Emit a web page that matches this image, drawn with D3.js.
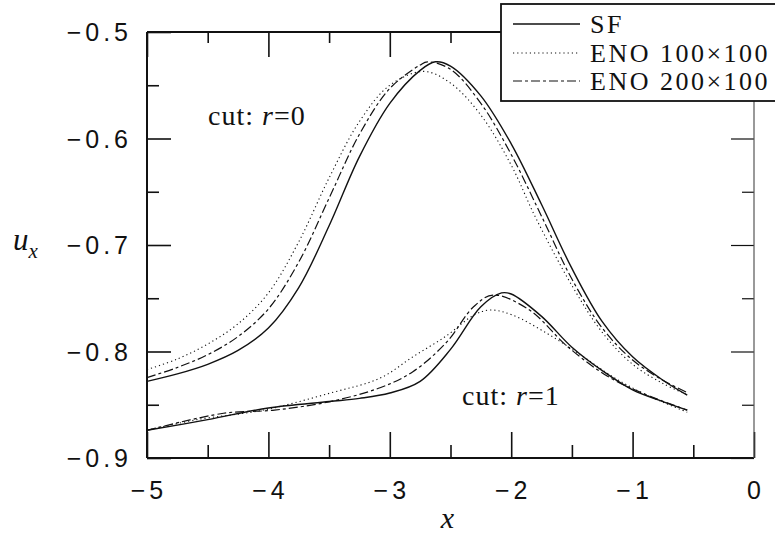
<!DOCTYPE html>
<html>
<head>
<meta charset="utf-8">
<script src="https://cdn.jsdelivr.net/npm/d3@7"></script>
<style>
  body { margin: 0; background: #fff; }
  svg { display: block; }
  .ticklab { font-family: "Liberation Sans", Arial, sans-serif; font-size: 25px; letter-spacing: 4px; fill: #111; }
  .serif { font-family: "Liberation Serif", "Times New Roman", serif; fill: #111; }
</style>
</head>
<body>
<div id="chart"></div>
<script>
// ---- data ----
// upper group: cut r=0
const sfUpX   = [-5, -4.75, -4.5, -4.25, -4, -3.75, -3.5, -3.25, -3, -2.75, -2.625, -2.5, -2.25, -2, -1.75, -1.5, -1.25, -1, -0.75, -0.55];
const sfUpY   = [-0.828, -0.821, -0.812, -0.799, -0.778, -0.740, -0.682, -0.617, -0.567, -0.536, -0.528, -0.532, -0.560, -0.605, -0.662, -0.722, -0.772, -0.805, -0.827, -0.841];
const dashUpX = [-5, -4.75, -4.5, -4.25, -4, -3.75, -3.5, -3.25, -3, -2.75, -2.69, -2.5, -2.25, -2, -1.75, -1.5, -1.25, -1, -0.75, -0.56];
const dashUpY = [-0.8245, -0.815, -0.803, -0.786, -0.760, -0.716, -0.656, -0.596, -0.553, -0.531, -0.528, -0.535, -0.567, -0.615, -0.673, -0.732, -0.778, -0.808, -0.827, -0.838];
const dotUpX  = [-5, -4.75, -4.5, -4.25, -4, -3.75, -3.5, -3.25, -3, -2.72, -2.5, -2.25, -2, -1.8, -1.5, -1.25, -1, -0.75, -0.56];
const dotUpY  = [-0.817, -0.807, -0.793, -0.774, -0.745, -0.697, -0.637, -0.584, -0.550, -0.537, -0.548, -0.578, -0.625, -0.674, -0.738, -0.782, -0.812, -0.830, -0.840];
// lower group: cut r=1
const sfLoX   = [-5, -4.5, -4, -3.5, -3.25, -3, -2.75, -2.5, -2.25, -2.08, -2, -1.75, -1.5, -1.25, -1, -0.75, -0.55];
const sfLoY   = [-0.874, -0.864, -0.853, -0.847, -0.844, -0.839, -0.828, -0.798, -0.758, -0.745, -0.746, -0.767, -0.796, -0.818, -0.836, -0.847, -0.855];
const dashLoX = [-5, -4.37, -3.95, -3.49, -3.08, -2.81, -2.53, -2.31, -2.15, -1.85, -1.54, -1.21, -0.9, -0.55];
const dashLoY = [-0.874, -0.858, -0.855, -0.847, -0.834, -0.819, -0.791, -0.758, -0.747, -0.761, -0.795, -0.823, -0.840, -0.855];
const dotLoX  = [-5, -4.59, -4.04, -3.49, -3.08, -2.81, -2.53, -2.31, -2.17, -1.985, -1.705, -1.43, -1.16, -0.9, -0.55];
const dotLoY  = [-0.874, -0.864, -0.855, -0.839, -0.825, -0.805, -0.785, -0.766, -0.761, -0.766, -0.783, -0.803, -0.824, -0.840, -0.857];

const xMajor = [-5, -4, -3, -2, -1, 0];
const xMinor = [-4.5, -3.5, -2.5, -1.5, -0.5];
const yMajor = [-0.9, -0.8, -0.7, -0.6, -0.5];
const yMinor = [-0.85, -0.75, -0.65, -0.55];
const legendNames = ["SF", "ENO 100×100", "ENO 200×100"];

const W = 775, H = 540;
const margin = {top: 32, right: 21, bottom: 82, left: 147};
const svg = d3.select("#chart").append("svg").attr("width", W).attr("height", H);

const x = d3.scaleLinear().domain([-5, 0]).range([margin.left, W - margin.right]);
const y = d3.scaleLinear().domain([-0.9, -0.5]).range([H - margin.bottom, margin.top]);

const fmt = d => (d < 0 ? "\u2212" : "") + Math.abs(d);

// styles per method
const styles = {
  sf:   {dash: null,         width: 1.4},
  dot:  {dash: "1.2,3",      width: 1.1},
  dash: {dash: "9,3,3,3",    width: 1.2}
};

// ticks via axes, inward
const bottomMaj = d3.axisBottom(x).tickValues(xMajor).tickSize(-26).tickFormat("");
const bottomMin = d3.axisBottom(x).tickValues(xMinor).tickSize(-13).tickFormat("");
const topMaj = d3.axisTop(x).tickValues(xMajor).tickSize(-25).tickFormat("");
const topMin = d3.axisTop(x).tickValues(xMinor).tickSize(-11).tickFormat("");
const leftMaj = d3.axisLeft(y).tickValues(yMajor).tickSize(-24).tickFormat("");
const leftMin = d3.axisLeft(y).tickValues(yMinor).tickSize(-12).tickFormat("");
const rightMaj = d3.axisRight(y).tickValues(yMajor).tickSize(-23).tickFormat("");
const rightMin = d3.axisRight(y).tickValues(yMinor).tickSize(-12).tickFormat("");

const ax = svg.append("g").attr("id", "axes");
ax.append("g").attr("transform", `translate(0,${y(-0.9)})`).call(bottomMaj);
ax.append("g").attr("transform", `translate(0,${y(-0.9)})`).call(bottomMin);
ax.append("g").attr("transform", `translate(0,${y(-0.5)})`).call(topMaj);
ax.append("g").attr("transform", `translate(0,${y(-0.5)})`).call(topMin);
ax.append("g").attr("transform", `translate(${x(-5)},0)`).call(leftMaj);
ax.append("g").attr("transform", `translate(${x(-5)},0)`).call(leftMin);
ax.append("g").attr("transform", `translate(${x(0)},0)`).call(rightMaj).classed("right", true);
ax.append("g").attr("transform", `translate(${x(0)},0)`).call(rightMin).classed("right", true);
ax.selectAll(".domain").remove();
ax.selectAll(".tick line").attr("stroke", "#111").attr("stroke-width", 1.6);
ax.selectAll(".right .tick line").attr("stroke-width", 1.2);

// frame
ax.append("line").attr("x1", x(-5)).attr("x2", x(0)).attr("y1", y(-0.9)).attr("y2", y(-0.9)).attr("stroke", "#111").attr("stroke-width", 2.2);
ax.append("line").attr("x1", x(-5)).attr("x2", x(-5)).attr("y1", y(-0.9)).attr("y2", y(-0.5)).attr("stroke", "#111").attr("stroke-width", 2);
ax.append("line").attr("x1", x(-5)).attr("x2", x(0)).attr("y1", y(-0.5)).attr("y2", y(-0.5)).attr("stroke", "#111").attr("stroke-width", 2);
ax.append("line").attr("x1", x(0)).attr("x2", x(0)).attr("y1", y(-0.9)).attr("y2", y(-0.5)).attr("stroke", "#555").attr("stroke-width", 1.2);

// tick labels
svg.append("g").selectAll("text").data(yMajor).enter().append("text")
  .attr("class", "ticklab")
  .attr("x", x(-5) - 15)
  .attr("y", d => y(d) + 9)
  .attr("text-anchor", "end")
  .text(fmt);
svg.append("g").selectAll("text").data(xMajor).enter().append("text")
  .attr("class", "ticklab")
  .attr("x", d => x(d) + 2)
  .attr("y", y(-0.9) + 41)
  .attr("text-anchor", "middle")
  .text(fmt);

// axis titles
svg.append("text").attr("class", "serif")
  .attr("x", x(-2.5) - 3).attr("y", 528)
  .attr("text-anchor", "middle")
  .style("font-size", "30px").style("font-style", "italic")
  .text("x");
const uLab = svg.append("text").attr("class", "serif")
  .attr("x", 13).attr("y", y(-0.7) + 5)
  .style("font-size", "31px").style("font-style", "italic");
uLab.append("tspan").text("u");
uLab.append("tspan").attr("dy", 8).style("font-size", "21px").text("x");

// curves
const line = d3.line().x(d => x(d[0])).y(d => y(d[1])).curve(d3.curveCatmullRom.alpha(0.5));
const series = [
  {xs: sfUpX, ys: sfUpY, s: styles.sf},
  {xs: dotUpX, ys: dotUpY, s: styles.dot},
  {xs: dashUpX, ys: dashUpY, s: styles.dash},
  {xs: sfLoX, ys: sfLoY, s: styles.sf},
  {xs: dotLoX, ys: dotLoY, s: styles.dot},
  {xs: dashLoX, ys: dashLoY, s: styles.dash}
];
svg.append("g").attr("id", "curves").selectAll("path").data(series).enter().append("path")
  .attr("d", d => line(d.xs.map((v, i) => [v, d.ys[i]])))
  .attr("fill", "none")
  .attr("stroke", "#111")
  .attr("stroke-width", d => d.s.width)
  .attr("stroke-dasharray", d => d.s.dash);

// annotations
function cutLabel(px, py, val) {
  const t = svg.append("text").attr("class", "serif").attr("x", px).attr("y", py)
    .style("font-size", "28px").style("letter-spacing", "1px");
  t.append("tspan").text("cut: ");
  t.append("tspan").style("font-style", "italic").text("r");
  t.append("tspan").text("=" + val);
}
cutLabel(208, 125, "0");
cutLabel(462, 405, "1");

// legend
const lg = svg.append("g").attr("id", "legend");
lg.append("rect").attr("x", 501).attr("y", 4).attr("width", 290).attr("height", 97)
  .attr("fill", "#fff").attr("stroke", "#111").attr("stroke-width", 1.8);
const lgStyles = [styles.sf, styles.dot, styles.dash];
const rowY = [24, 53, 81];
lg.selectAll("line.key").data(legendNames).enter().append("line")
  .attr("class", "key")
  .attr("x1", 513).attr("x2", 580)
  .attr("y1", (d, i) => rowY[i]).attr("y2", (d, i) => rowY[i])
  .attr("stroke", "#111")
  .attr("stroke-width", (d, i) => lgStyles[i].width)
  .attr("stroke-dasharray", (d, i) => lgStyles[i].dash);
lg.selectAll("text").data(legendNames).enter().append("text")
  .attr("class", "serif")
  .attr("x", 590)
  .attr("y", (d, i) => rowY[i] + 9)
  .style("font-size", "26px")
  .style("letter-spacing", "2.5px")
  .text(d => d);
</script>
</body>
</html>
